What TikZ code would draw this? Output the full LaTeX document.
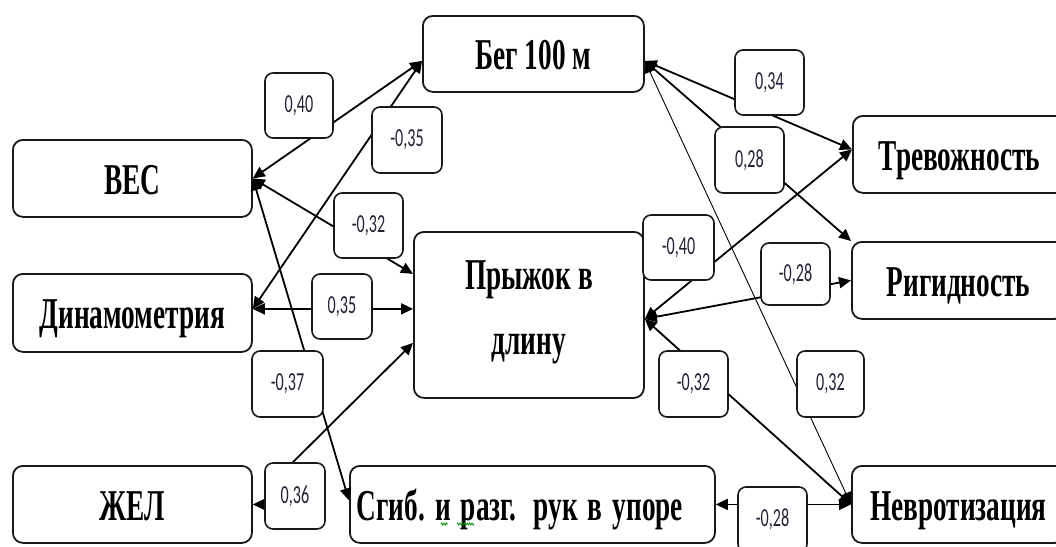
\documentclass[tikz,border=0pt]{standalone}
\usepackage{fontspec}
\usetikzlibrary{arrows.meta,calc,decorations.pathmorphing}
\newfontfamily\boxfont[FakeStretch=0.62]{Liberation Serif}
\newfontfamily\numfont[FakeStretch=0.62]{Carlito}
\definecolor{coeftext}{RGB}{35,35,55}
\definecolor{edge}{RGB}{25,25,25}

\tikzset{
  var/.style={draw=edge, line width=1.8pt, rounded corners=10pt, fill=white,
    inner sep=0pt, anchor=north west, text height=32pt, text depth=0pt,
    font=\boxfont\bfseries\fontsize{44}{65}\selectfont},
  bigvar/.style={var, text height=, text depth=15pt, align=center},
  coef/.style={draw=edge, line width=1.6pt, rounded corners=8pt, fill=white,
    inner sep=0pt, text=coeftext, font=\numfont\fontsize{26}{28}\selectfont},
  link/.style={line width=1.8pt,
    {Triangle[length=12pt,width=11pt]}-{Triangle[length=12pt,width=11pt]}},
  thinlink/.style={link, line width=0.9pt},
  squiggle/.style={draw=green!55!black, line width=0.7pt, decorate,
    decoration={zigzag, segment length=2.4pt, amplitude=1.1pt}},
}
\newcommand\gap[1]{\hspace{#1pt}}

\begin{document}
\begin{tikzpicture}[x=1pt,y=-1pt]
  \useasboundingbox (0,0) rectangle (1056,546);
  \clip (0,0) rectangle (1056,546);
  \fill[white] (0,0) rectangle (1056,546);

  % variables
  \node[var, minimum width=221pt, minimum height=76pt] (beg) at (422,15) {Бег 100 м};
  \node[var, minimum width=239pt, minimum height=77pt] (ves) at (12,139) {ВЕС};
  \node[var, minimum width=239pt, minimum height=78pt] (din) at (12,273) {Динамометрия};
  \node[var, minimum width=239pt, minimum height=77pt] (zhel) at (12,465) {ЖЕЛ};
  \node[bigvar, minimum width=230pt, minimum height=166pt] (pryzh) at (413,231) {Прыжок в\\длину};
  \node[var, minimum width=213pt, minimum height=77pt] (trev) at (852,115) {Тревожность};
  \node[var, minimum width=213pt, minimum height=77pt] (rig) at (851,241) {Ригидность};
  \node[var, minimum width=213pt, minimum height=77pt] (nevr) at (851,465) {Невротизация};
  \node[var, minimum height=77pt, inner xsep=7pt] (sgib) at (349,465)
    {\makebox[351pt][l]{Сгиб.\gap{10}и\gap{10}разг.\gap{17}рук\gap{10}в\gap{10}упоре}};

  % docking points on the box borders
  \coordinate (begL) at ($(beg.west)+(0,7)$);
  \coordinate (begR) at ($(beg.east)+(0,7)$);
  \coordinate (dinE) at ($(din.east)+(0,-4)$);
  \coordinate (prL1) at ($(pryzh.west)+(0,-41)$);
  \coordinate (prL2) at ($(pryzh.west)+(0,-6)$);
  \coordinate (prL3) at ($(pryzh.west)+(0,28)$);
  \coordinate (prR) at ($(pryzh.east)+(0,4)$);
  \coordinate (trevW) at ($(trev.west)+(0,-5)$);
  \coordinate (sgibW) at ($(sgib.west)+(0,-4)$);
  \coordinate (zbend1) at ($(zhel.east)+(21,0)$);
  \coordinate (zbend2) at (275,480);

  % correlations
  \draw[link] (ves.east) -- (begL);
  \draw[link] (dinE) -- (begL);
  \draw[link] (ves.east) -- (prL1);
  \draw[link] (ves.east) -- (sgibW);
  \draw[link] (dinE) -- (prL2);
  \draw[link] (zhel.east) -- (zbend1) -- (zbend2) -- (prL3);
  \draw[link] (begR) -- (trevW);
  \draw[link] (begR) -- (rig.north west);
  \draw[thinlink] (begR) -- (nevr.west);
  \draw[link] (prR) -- (trevW);
  \draw[link] (prR) -- (rig.west);
  \draw[link] (prR) -- (nevr.west);
  \draw[link] (sgib.east) -- (nevr.west);

  % coefficients
  \node[coef, minimum width=68pt, minimum height=65pt] (c1) at (299,105.5) {0,40};
  \node[coef, minimum width=70pt, minimum height=66pt] (c2) at (407,140) {-0,35};
  \node[coef, minimum width=69pt, minimum height=65pt] (c3) at (368.5,225.5) {-0,32};
  \node[coef, minimum width=71pt, minimum height=66pt] (c4) at (287.5,384) {-0,37};
  \node[coef, minimum width=60pt, minimum height=65pt] (c5) at (342,306.5) {0,35};
  \node[coef, minimum width=60pt, minimum height=66pt] (c6) at (295,496) {0,36};
  \node[coef, minimum width=69pt, minimum height=65pt] (c7) at (769.5,82.5) {0,34};
  \node[coef, minimum width=69pt, minimum height=66pt] (c8) at (749.5,160) {0,28};
  \node[coef, minimum width=67pt, minimum height=66pt] (c9) at (830.5,384) {0,32};
  \node[coef, minimum width=71pt, minimum height=65pt] (c10) at (678.5,247.5) {-0,40};
  \node[coef, minimum width=69pt, minimum height=62pt] (c11) at (795.5,274) {-0,28};
  \node[coef, minimum width=69pt, minimum height=66pt] (c12) at (693.5,384) {-0,32};
  \node[coef, minimum width=69pt, minimum height=65pt] (c13) at (772.5,519.5) {-0,28};

  % spell-check marks under the text
  \path[squiggle] (441,524) -- (448,524);
  \path[squiggle] (457,524) -- (474,524);
\end{tikzpicture}
\end{document}
